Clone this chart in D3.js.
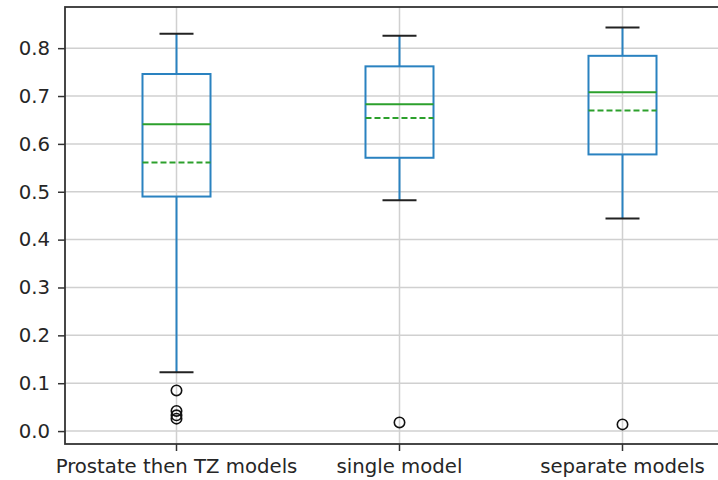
<!DOCTYPE html>
<html>
<head>
<meta charset="utf-8">
<script src="https://cdn.jsdelivr.net/npm/d3@7"></script>
<style>
  body { margin: 0; background: #fff; }
  svg { display: block; font-family: "DejaVu Sans", sans-serif; }
</style>
</head>
<body>
<script>
// categories and box statistics
const categories = ["Prostate then TZ models", "single model", "separate models"];
const whiskerLow  = [0.123, 0.482, 0.444];
const q1          = [0.490, 0.571, 0.578];
const medians     = [0.641, 0.683, 0.708];
const means       = [0.561, 0.654, 0.670];
const q3          = [0.746, 0.762, 0.784];
const whiskerHigh = [0.830, 0.826, 0.843];
const outliers    = [[0.085, 0.042, 0.033, 0.026], [0.018], [0.014]];
const yTicks      = [0.0, 0.1, 0.2, 0.3, 0.4, 0.5, 0.6, 0.7, 0.8];

const width = 718, height = 480;
const plot = { left: 65, top: 7, right: 734, bottom: 444 };

const boxes = categories.map((c, i) => ({
    cat: c, lo: whiskerLow[i], q1: q1[i], med: medians[i], mean: means[i],
    q3: q3[i], hi: whiskerHigh[i], out: outliers[i]
}));

let svg = d3.select("body").append("svg")
    .attr("width", width)
    .attr("height", height);

//scales
let x = d3.scaleBand().domain(categories).range([plot.left, plot.right]).padding(0);
let y = d3.scaleLinear().domain([-0.027, 0.886]).range([plot.bottom, plot.top]);
const cx = (c) => x(c) + x.bandwidth() / 2;
const boxW = x.bandwidth() * 0.305;
const capW = boxW / 2;

//grid
let grid = svg.append("g");
grid.selectAll(".hgrid").data(yTicks).enter().append("line")
    .attr("x1", plot.left).attr("x2", plot.right)
    .attr("y1", d => y(d)).attr("y2", d => y(d))
    .attr("stroke", "#d0d0d0").attr("stroke-width", 1.5);
grid.selectAll(".vgrid").data(categories).enter().append("line")
    .attr("x1", d => cx(d)).attr("x2", d => cx(d))
    .attr("y1", plot.top).attr("y2", plot.bottom)
    .attr("stroke", "#d0d0d0").attr("stroke-width", 1.5);

//boxes
let g = svg.selectAll(".box").data(boxes).enter().append("g");

g.append("line") // lower whisker
    .attr("x1", d => cx(d.cat)).attr("x2", d => cx(d.cat))
    .attr("y1", d => y(d.q1)).attr("y2", d => y(d.lo))
    .attr("stroke", "#2a82c0").attr("stroke-width", 2);
g.append("line") // upper whisker
    .attr("x1", d => cx(d.cat)).attr("x2", d => cx(d.cat))
    .attr("y1", d => y(d.q3)).attr("y2", d => y(d.hi))
    .attr("stroke", "#2a82c0").attr("stroke-width", 2);

g.append("line")
    .attr("x1", d => cx(d.cat) - capW / 2).attr("x2", d => cx(d.cat) + capW / 2)
    .attr("y1", d => y(d.lo)).attr("y2", d => y(d.lo))
    .attr("stroke", "#222").attr("stroke-width", 2);
g.append("line")
    .attr("x1", d => cx(d.cat) - capW / 2).attr("x2", d => cx(d.cat) + capW / 2)
    .attr("y1", d => y(d.hi)).attr("y2", d => y(d.hi))
    .attr("stroke", "#222").attr("stroke-width", 2);

g.append("rect")
    .attr("x", d => cx(d.cat) - boxW / 2)
    .attr("y", d => y(d.q3))
    .attr("width", boxW)
    .attr("height", d => y(d.q1) - y(d.q3))
    .attr("fill", "none")
    .attr("stroke", "#2a82c0").attr("stroke-width", 2);

g.append("line")
    .attr("x1", d => cx(d.cat) - boxW / 2).attr("x2", d => cx(d.cat) + boxW / 2)
    .attr("y1", d => y(d.med)).attr("y2", d => y(d.med))
    .attr("stroke", "#2ca02c").attr("stroke-width", 2);
g.append("line")
    .attr("x1", d => cx(d.cat) - boxW / 2).attr("x2", d => cx(d.cat) + boxW / 2)
    .attr("y1", d => y(d.mean)).attr("y2", d => y(d.mean))
    .attr("stroke", "#2ca02c").attr("stroke-width", 2)
    .attr("stroke-dasharray", "6,3");

g.selectAll("circle").data(d => d.out.map(v => ({ cat: d.cat, v: v }))).enter()
    .append("circle")
    .attr("cx", d => cx(d.cat)).attr("cy", d => y(d.v))
    .attr("r", 5.2)
    .attr("fill", "none").attr("stroke", "#111").attr("stroke-width", 1.6);

//axes
const yAxis = d3.axisLeft(y).tickValues(yTicks).tickFormat(d3.format(".1f")).tickSize(7).tickPadding(8);
let ya = svg.append("g").attr("transform", `translate(${plot.left},0)`).call(yAxis);
const xAxis = d3.axisBottom(x).tickSize(7).tickPadding(8);
let xa = svg.append("g").attr("transform", `translate(0,${plot.bottom})`).call(xAxis);

[ya, xa].forEach(a => {
    a.select(".domain").remove();
    a.selectAll(".tick line").attr("stroke", "#333").attr("stroke-width", 1.5);
    a.selectAll("text").attr("fill", "#262626").style("font-size", "19.7px")
        .style("font-family", "DejaVu Sans, sans-serif");
});

//spines
svg.append("rect")
    .attr("x", plot.left).attr("y", plot.top)
    .attr("width", plot.right - plot.left).attr("height", plot.bottom - plot.top)
    .attr("fill", "none").attr("stroke", "#333").attr("stroke-width", 1.8);
</script>
</body>
</html>
